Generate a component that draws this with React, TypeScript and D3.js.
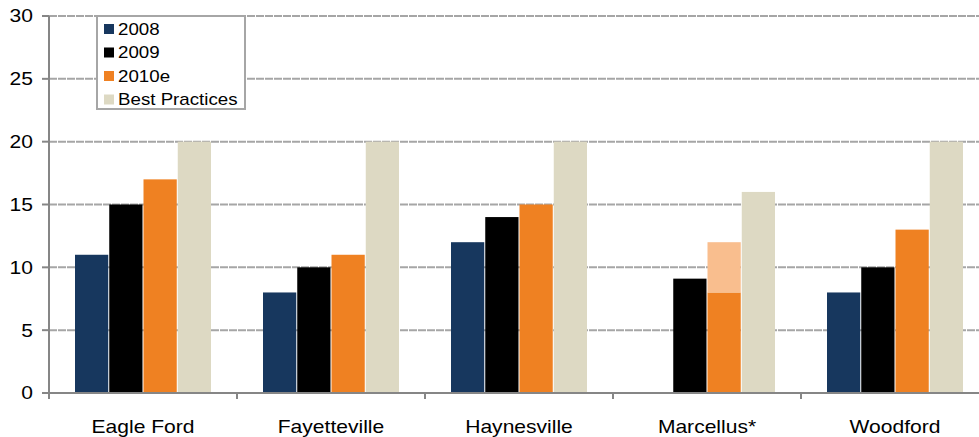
import React from "react";
import * as d3 from "d3";

const categories = ["Eagle Ford", "Fayetteville", "Haynesville", "Marcellus*", "Woodford"];
const seriesNames = ["2008", "2009", "2010e", "Best Practices"];
const values2008: (number | null)[] = [11, 8, 12, null, 8];
const values2009: (number | null)[] = [15, 10, 14, 9.1, 10];
const values2010e: (number | null)[] = [17, 11, 15, 8, 13];
const values2010eHigh: (number | null)[] = [null, null, null, 12, null];
const valuesBest: (number | null)[] = [20, 20, 20, 16, 20];
const yTicks = [0, 5, 10, 15, 20, 25, 30];

const colors = ["#17375e", "#000000", "#ef8122", "#ddd9c3"];
const rangeColor = "#f9be8e";

const W = 979;
const H = 437;
const left = 49;
const right = 989;
const top = 16;
const bottom = 393;
const font = "'Liberation Sans', Arial, sans-serif";
// labels are set slightly wide
const stretch = 1.17;

function Label(props: {
  x: number;
  y: number;
  size: number;
  anchor?: "start" | "middle" | "end";
  dy?: string;
  children: React.ReactNode;
}) {
  return (
    <text
      transform={`translate(${props.x},${props.y}) scale(${stretch},1)`}
      dy={props.dy}
      textAnchor={props.anchor || "start"}
      fontSize={props.size}
      fill="#000"
    >
      {props.children}
    </text>
  );
}

export default function App() {
  const x = d3.scaleBand<string>().domain(categories).range([left, right]).padding(0);
  const groupPad = (x.bandwidth() - 137) / 2;
  const xs = d3
    .scaleBand<string>()
    .domain(seriesNames)
    .range([groupPad, x.bandwidth() - groupPad])
    .padding(0);
  const y = d3.scaleLinear().domain([0, 30]).range([bottom, top]);
  const series = [values2008, values2009, values2010e, valuesBest];
  const bw = xs.bandwidth();

  return (
    <svg
      width={W}
      height={H}
      style={{ position: "absolute", left: 0, top: 0, background: "#fff" }}
      fontFamily={font}
    >
      {/* gridlines */}
      {yTicks.filter((t) => t > 0).map((t) => (
        <line
          key={t}
          x1={left}
          x2={W}
          y1={y(t)}
          y2={y(t)}
          stroke="#a6a6a6"
          strokeWidth={2}
          strokeDasharray="8,1"
        />
      ))}

      {/* bars */}
      {categories.map((c, i) => (
        <g key={c} transform={`translate(${x(c)},0)`}>
          {series.map((s, j) => {
            const v = s[i];
            if (v == null) return null;
            return (
              <rect
                key={j}
                x={(xs(seriesNames[j]) as number) + 0.5}
                y={y(v)}
                width={bw - 1}
                height={y(0) - y(v)}
                fill={colors[j]}
              />
            );
          })}
          {values2010eHigh[i] != null && values2010e[i] != null && (
            <rect
              x={(xs("2010e") as number) + 0.5}
              y={y(values2010eHigh[i] as number)}
              width={bw - 1}
              height={y(values2010e[i] as number) - y(values2010eHigh[i] as number)}
              fill={rangeColor}
            />
          )}
        </g>
      ))}

      {/* y axis */}
      <line x1={left} x2={left} y1={top} y2={bottom} stroke="#868686" strokeWidth={2} />
      {yTicks.map((t) => (
        <g key={t}>
          <line x1={left - 7} x2={left} y1={y(t)} y2={y(t)} stroke="#868686" strokeWidth={2} />
          <Label x={33} y={y(t)} dy="0.36em" anchor="end" size={18}>
            {t}
          </Label>
        </g>
      ))}

      {/* x axis */}
      <line x1={left} x2={W} y1={bottom} y2={bottom} stroke="#868686" strokeWidth={2} />
      {categories.map((c) => (
        <line
          key={c + "t"}
          x1={x(c) as number}
          x2={x(c) as number}
          y1={bottom}
          y2={bottom + 6}
          stroke="#868686"
          strokeWidth={2}
        />
      ))}
      {categories.map((c) => (
        <Label key={c + "l"} x={(x(c) as number) + x.bandwidth() / 2} y={433} anchor="middle" size={18}>
          {c}
        </Label>
      ))}

      {/* legend */}
      <rect x={97} y={16} width={148} height={93} fill="#fff" stroke="#a6a6a6" strokeWidth={2} />
      {seriesNames.map((n, j) => {
        const cy = 29 + j * 23.5;
        return (
          <g key={n}>
            <rect x={104} y={cy - 5} width={10} height={10} fill={colors[j]} />
            <Label x={118} y={cy} dy="0.36em" size={16}>
              {n}
            </Label>
          </g>
        );
      })}
    </svg>
  );
}
